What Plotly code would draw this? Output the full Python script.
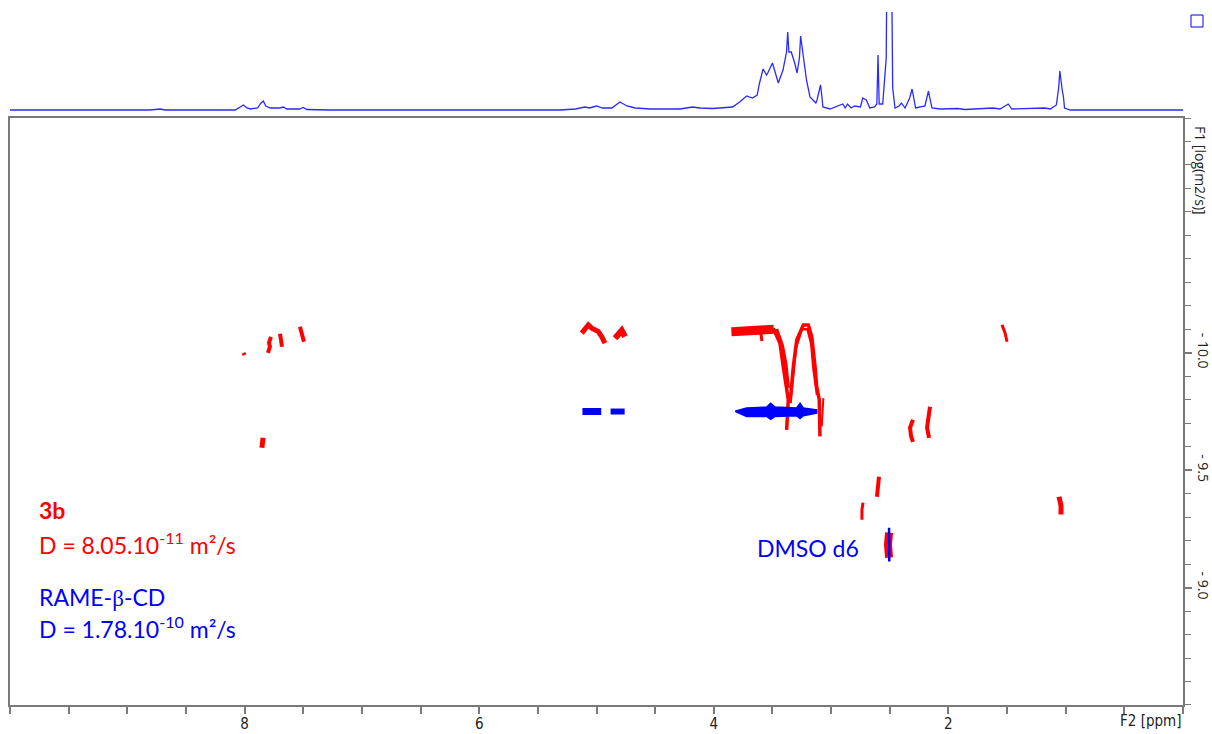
import plotly.graph_objects as go

# ---------------- data ----------------
# 1D projection spectrum (ppm, relative intensity)
spec_ppm = [10.0, 8.81, 8.72, 8.68, 8.08, 8.03, 8.01, 7.98, 7.95, 7.89, 7.86, 7.84, 7.82, 7.78,
            7.70, 7.67, 7.64, 7.53, 7.50, 7.47, 7.27, 5.31, 5.18, 5.10, 5.06, 5.00, 4.95, 4.87,
            4.80, 4.74, 4.67, 4.54, 4.29, 4.18, 4.12, 4.01, 3.90, 3.84, 3.78, 3.72, 3.67, 3.63,
            3.61, 3.58, 3.55, 3.54, 3.50, 3.45, 3.41, 3.38, 3.37, 3.36, 3.34, 3.31, 3.29, 3.27,
            3.26, 3.24, 3.21, 3.18, 3.13, 3.12, 3.10, 3.09, 3.08, 3.07, 3.01, 2.90, 2.88, 2.86,
            2.83, 2.80, 2.75, 2.73, 2.70, 2.67, 2.63, 2.61, 2.60, 2.59, 2.56, 2.53, 2.521, 2.506,
            2.489, 2.475, 2.455, 2.42, 2.40, 2.37, 2.33, 2.31, 2.30, 2.28, 2.20, 2.17, 2.16, 2.14,
            2.07, 1.92, 1.86, 1.62, 1.56, 1.49, 1.46, 1.24, 1.18, 1.13, 1.08, 1.06, 1.05, 1.03,
            1.02, 1.01, 0.96, 0.0]
spec_int = [0, 0, 1, 0, 0, 3, 5, 2, 1, 2, 7, 9, 4, 2,
            2, 3, 1, 1, 2.5, 0.5, 0, 0, 1, 3, 2, 4, 2, 2,
            8, 4, 2, 1, 1, 3, 2, 1.5, 2, 3, 8, 14, 12, 15,
            27, 41, 35, 37, 47, 27, 40, 58, 78, 58, 58, 47, 37, 52,
            74, 57, 30, 13, 7, 10, 22, 25, 15, 3, 1, 6, 2, 6,
            2, 4, 3, 12, 10, 2, 3, 6, 55, 6, 6, 52, 210, 260,
            210, 22, 2, 4, 7, 2, 12, 21, 15, 2, 4, 19, 13, 2,
            1, 1.5, 0.5, 2, 1, 6, 1, 1.5, 2, 1, 5, 22, 39, 20,
            14, 2, 0, 0]

# DOSY cross peaks of compound 3b (red): ppm / log(D) traces
r_dot_ppm = [8.01, 8.00];                 r_dot_logd = [-10.000, -9.990]
r_78_ppm = [7.775, 7.792, 7.784, 7.801];  r_78_logd = [-10.068, -10.043, -10.026, -10.000]
r_77_ppm = [7.698, 7.690, 7.681];         r_77_logd = [-10.081, -10.055, -10.026]
r_75_ppm = [7.528, 7.511, 7.494];         r_75_logd = [-10.111, -10.081, -10.047]
r_785_ppm = [7.843, 7.852];               r_785_logd = [-9.638, -9.596]
r_51_ppm = [5.126, 5.098, 5.070, 5.041, 5.013, 4.985, 4.956, 4.928]
r_51_logd = [-10.084, -10.105, -10.119, -10.105, -10.098, -10.091, -10.069, -10.041]
r_48_ppm = [4.842, 4.814, 4.785, 4.757];  r_48_logd = [-10.062, -10.084, -10.095, -10.069]
r_band_ppm = [3.85, 3.70, 3.60, 3.49];    r_band_logd = [-10.090, -10.095, -10.098, -10.100]
r_nub_ppm = [3.600, 3.590];               r_nub_logd = [-10.090, -10.050]
r_dip1_ppm = [3.493, 3.436, 3.408, 3.379, 3.365, 3.379]
r_dip1_logd = [-10.105, -10.041, -9.942, -9.857, -9.800, -9.672]
r_dip1b_ppm = [3.470, 3.420, 3.390, 3.370]
r_dip1b_logd = [-10.100, -10.030, -9.950, -9.850]
r_arch_ppm = [3.350, 3.322, 3.293, 3.237, 3.194, 3.165, 3.137, 3.123, 3.101, 3.095]
r_arch_logd = [-9.786, -9.942, -10.055, -10.119, -10.119, -10.069, -9.942, -9.857, -9.800, -9.644]
r_arch2_ppm = [3.340, 3.300, 3.250, 3.200, 3.170, 3.150, 3.120]
r_arch2_logd = [-9.820, -10.020, -10.100, -10.100, -10.040, -9.930, -9.820]
r_tail_ppm = [3.066, 3.080];              r_tail_logd = [-9.807, -9.686]
r_232_ppm = [2.302, 2.327, 2.319, 2.302]; r_232_logd = [-9.715, -9.681, -9.647, -9.621]
r_217_ppm = [2.157, 2.174, 2.182, 2.165]; r_217_logd = [-9.770, -9.723, -9.681, -9.638]
r_260_ppm = [2.592, 2.600, 2.609];        r_260_logd = [-9.472, -9.430, -9.387]
r_273_ppm = [2.728, 2.737, 2.737];        r_273_logd = [-9.362, -9.332, -9.289]
r_dmso_ppm = [2.506, 2.515, 2.506];       r_dmso_logd = [-9.234, -9.183, -9.128]
r_152_ppm = [1.543, 1.517, 1.500];        r_152_logd = [-10.119, -10.085, -10.047]
r_105_ppm = [1.057, 1.040, 1.040];        r_105_logd = [-9.387, -9.349, -9.311]

# DOSY cross peaks of RAME-beta-CD (blue)
b_51_ppm = [5.12, 4.96];                  b_51_logd = [-9.750, -9.750]
b_48_ppm = [4.88, 4.76];                  b_48_logd = [-9.750, -9.750]
b_band_ppm = [3.819, 3.720, 3.549, 3.515, 3.478, 3.293, 3.265, 3.237, 3.123,
              3.123, 3.237, 3.265, 3.293, 3.478, 3.515, 3.549, 3.720, 3.819]
b_band_logd = [-9.751, -9.765, -9.769, -9.785, -9.769, -9.765, -9.785, -9.765, -9.757,
               -9.743, -9.732, -9.720, -9.732, -9.729, -9.717, -9.729, -9.729, -9.751]
b_dmso_ppm = [2.506, 2.504];              b_dmso_logd = [-9.255, -9.111]

x_tickvals = [8, 6, 4, 2]
x_ticktext = ["8", "6", "4", "2"]
y_tickvals = [-10.0, -9.5, -9.0]
y_ticktext = ["- 10.0", "- 9.5", "- 9.0"]

# ---------------- figure ----------------
RED = "#ff0000"
BLUE = "#0000ff"
fig = go.Figure()

fig.add_trace(go.Scatter(x=spec_ppm, y=spec_int, mode="lines", xaxis="x2", yaxis="y2",
                         line=dict(color="#2a2aff", width=1.3), hoverinfo="skip"))

red_traces = [
    (r_dot_ppm, r_dot_logd, 4), (r_78_ppm, r_78_logd, 4), (r_77_ppm, r_77_logd, 4),
    (r_75_ppm, r_75_logd, 4), (r_785_ppm, r_785_logd, 5), (r_51_ppm, r_51_logd, 5),
    (r_48_ppm, r_48_logd, 6), (r_band_ppm, r_band_logd, 9), (r_nub_ppm, r_nub_logd, 3),
    (r_dip1_ppm, r_dip1_logd, 3.5), (r_dip1b_ppm, r_dip1b_logd, 4.5), (r_arch_ppm, r_arch_logd, 3.5),
    (r_arch2_ppm, r_arch2_logd, 2.5), (r_tail_ppm, r_tail_logd, 2), (r_232_ppm, r_232_logd, 4),
    (r_217_ppm, r_217_logd, 4), (r_260_ppm, r_260_logd, 4), (r_273_ppm, r_273_logd, 3),
    (r_dmso_ppm, r_dmso_logd, 8), (r_152_ppm, r_152_logd, 3), (r_105_ppm, r_105_logd, 5),
]
for xs, ys, w in red_traces:
    fig.add_trace(go.Scatter(x=xs, y=ys, mode="lines", line=dict(color=RED, width=w),
                             hoverinfo="skip"))

fig.add_trace(go.Scatter(x=b_51_ppm, y=b_51_logd, mode="lines", line=dict(color=BLUE, width=7),
                         hoverinfo="skip"))
fig.add_trace(go.Scatter(x=b_48_ppm, y=b_48_logd, mode="lines", line=dict(color=BLUE, width=6),
                         hoverinfo="skip"))
fig.add_trace(go.Scatter(x=b_band_ppm, y=b_band_logd, mode="lines", fill="toself",
                         fillcolor=BLUE, line=dict(color=BLUE, width=1.5), hoverinfo="skip"))
fig.add_trace(go.Scatter(x=b_dmso_ppm, y=b_dmso_logd, mode="lines", line=dict(color=BLUE, width=2.5),
                         hoverinfo="skip"))

GRAY = "#7a7a7a"
NARROW = "Liberation Sans Narrow, DejaVu Sans Condensed, sans-serif"
fig.update_layout(
    width=1212, height=734,
    margin=dict(l=10, r=29, t=12, b=29, autoexpand=False),
    paper_bgcolor="white", plot_bgcolor="white",
    showlegend=False,
    xaxis=dict(domain=[0, 1], range=[10, 0], anchor="y", showline=True, mirror=True,
               automargin=False,
               linecolor=GRAY, linewidth=2, ticks="outside", ticklen=7, tickcolor=GRAY,
               tickwidth=1.5, tickmode="array", tickvals=x_tickvals, ticktext=x_ticktext,
               ticklabelstandoff=-3,
               minor=dict(tickmode="linear", tick0=0.5, dtick=0.5, ticks="outside", ticklen=7,
                          tickcolor=GRAY, tickwidth=1.5),
               showgrid=False, zeroline=False,
               tickfont=dict(family=NARROW, size=15, color="#222222")),
    yaxis=dict(domain=[0, 0.847], range=[-8.5, -11], anchor="x", side="right", showline=True,
               automargin=False,
               mirror=True, linecolor=GRAY, linewidth=2, ticks="outside", ticklen=7,
               tickcolor=GRAY, tickwidth=1.5, tickmode="array", tickvals=y_tickvals,
               ticktext=y_ticktext, tickangle=90, showgrid=False, zeroline=False,
               minor=dict(tickmode="linear", tick0=-11, dtick=0.1, ticks="outside", ticklen=6,
                          tickcolor=GRAY, tickwidth=1.2),
               tickfont=dict(family="Open Sans, sans-serif", size=14, color="#222222")),
    xaxis2=dict(domain=[0, 1], range=[10, 0], anchor="y2", visible=False),
    yaxis2=dict(domain=[0.8557, 1.0], range=[-2, 98], anchor="x2", visible=False),
)

ann_font = "Lato, Open Sans, sans-serif"
annotations = [
    dict(text="<b>3b</b>", x=0.0230, y=(705 - 510) / 693, font=dict(color=RED, size=23)),
    dict(text="D = 8.05.10<sup>-11</sup> m²/s", x=0.0230, y=(705 - 543) / 693,
         font=dict(color=RED, size=23)),
    dict(text="RAME-<span style='font-family:Liberation Serif, serif'>β</span>-CD", x=0.0230,
         y=(705 - 597) / 693, font=dict(color=BLUE, size=23)),
    dict(text="D = 1.78.10<sup>-10</sup> m²/s", x=0.0230, y=(705 - 627) / 693,
         font=dict(color=BLUE, size=23)),
    dict(text="DMSO d6", x=(755 - 10) / 1173, y=(705 - 548) / 693, font=dict(color=BLUE, size=23)),
]
for a in annotations:
    a["font"]["family"] = ann_font
    fig.add_annotation(xref="paper", yref="paper", xanchor="left", yanchor="middle",
                       showarrow=False, **a)

fig.add_annotation(text="F2 [ppm]", xref="paper", yref="paper", x=(1150 - 10) / 1173,
                   y=(705 - 721) / 693, xanchor="center", yanchor="middle", showarrow=False,
                   font=dict(family=NARROW, size=15, color="#222222"))
fig.add_annotation(text="F1 [log(m2/s)]", xref="paper", yref="paper", x=(1200 - 10) / 1173,
                   y=(705 - 170) / 693, xanchor="center", yanchor="middle", showarrow=False,
                   textangle=90,
                   font=dict(family="Open Sans, sans-serif", size=14, color="#222222"))

fig.add_shape(type="rect", xref="paper", yref="paper",
              x0=(1191 - 10) / 1173, x1=(1203 - 10) / 1173,
              y0=(705 - 27) / 693, y1=(705 - 15) / 693,
              line=dict(color=BLUE, width=1), fillcolor="rgba(0,0,0,0)")

fig.write_html("out.html", config={"displayModeBar": False},
               post_script="document.body.style.margin='0';")
